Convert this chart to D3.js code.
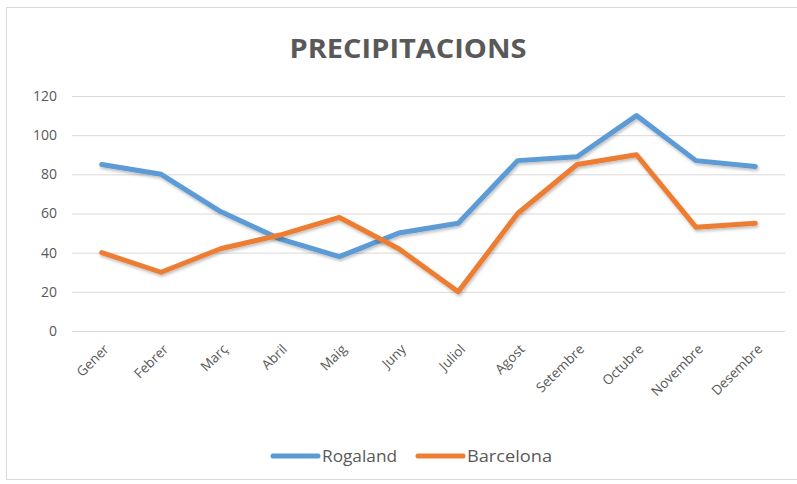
<!DOCTYPE html>
<html>
<head>
<meta charset="utf-8">
<script src="https://cdn.jsdelivr.net/npm/d3@7"></script>
<style>
  body { margin: 0; background: #fff; }
  text { font-family: "Open Sans", "DejaVu Sans", sans-serif; fill: #595959; }
</style>
</head>
<body>
<svg id="chart" width="797" height="484"></svg>
<script>
// Data
var months = ['Gener', 'Febrer', 'Març', 'Abril', 'Maig', 'Juny', 'Juliol', 'Agost', 'Setembre', 'Octubre', 'Novembre', 'Desembre'];
var rogaland = [85, 80, 61, 47, 38, 50, 55, 87, 89, 110, 87, 84];
var barcelona = [40, 30, 42, 49, 58, 42, 20, 60, 85, 90, 53, 55];
var yTicks = [0, 20, 40, 60, 80, 100, 120];
var seriesNames = ['Rogaland', 'Barcelona'];
var colors = ['#5B9BD5', '#ED7D31'];

var svg = d3.select('#chart');

// outer border
svg.append('rect')
  .attr('x', 6.5).attr('y', 7.5)
  .attr('width', 800).attr('height', 472)
  .attr('fill', '#fff')
  .attr('stroke', '#d9d9d9');

// soft shadow for the lines
var f = svg.append('defs').append('filter').attr('id', 'shadow')
  .attr('x', '-10%').attr('y', '-10%').attr('width', '120%').attr('height', '130%');
f.append('feDropShadow').attr('dx', 1).attr('dy', 2).attr('stdDeviation', 1.5)
  .attr('flood-color', '#000').attr('flood-opacity', 0.25);

// plot area edges
var plotL = 72, plotR = 785, plotT = 96, plotB = 331;

var x = d3.scaleBand().domain(months).range([plotL, plotR]);
var y = d3.scaleLinear().domain([0, 120]).range([plotB, plotT]);

// title
svg.append('text')
  .attr('x', 408).attr('y', 58)
  .attr('text-anchor', 'middle')
  .attr('textLength', 237)
  .attr('lengthAdjust', 'spacingAndGlyphs')
  .style('font-size', '26px')
  .style('font-weight', 'bold')
  .text('PRECIPITACIONS');

// gridlines + y labels
var yAxis = d3.axisLeft(y).tickValues(yTicks).tickSize(-(plotR - plotL)).tickPadding(15);
var gy = svg.append('g').attr('transform', 'translate(' + plotL + ',0)').call(yAxis);
gy.select('.domain').remove();
gy.selectAll('.tick line').attr('stroke', '#d9d9d9').attr('stroke-width', 1);
gy.selectAll('.tick text')
  .style('font-size', '14px')
  .style('font-family', '"Open Sans", sans-serif')
  .attr('fill', '#595959');

// x labels
var xAxis = d3.axisBottom(x).tickSize(0).tickPadding(0);
var gx = svg.append('g').attr('transform', 'translate(0,' + plotB + ')').call(xAxis);
gx.select('.domain').remove();
gx.selectAll('.tick text')
  .style('font-size', '13.5px')
  .style('font-family', '"Open Sans", sans-serif')
  .attr('fill', '#595959')
  .attr('text-anchor', 'end')
  .attr('dy', 0)
  .attr('transform', 'translate(8,19) rotate(-45)');

// lines
var line = d3.line()
  .x(function (d, i) { return x(months[i]) + x.bandwidth() / 2; })
  .y(function (d) { return y(d); });

[rogaland, barcelona].forEach(function (s, i) {
  svg.append('path')
    .datum(s)
    .attr('d', line)
    .attr('fill', 'none')
    .attr('stroke', colors[i])
    .attr('stroke-width', 5)
    .attr('stroke-linejoin', 'round')
    .attr('stroke-linecap', 'round')
    .attr('filter', 'url(#shadow)');
});

// legend
var legendX = [273, 418];
var legendW = [75, 85];
seriesNames.forEach(function (name, i) {
  var g = svg.append('g').attr('transform', 'translate(' + legendX[i] + ',456)');
  g.append('line')
    .attr('x1', 0).attr('x2', 45)
    .attr('stroke', colors[i]).attr('stroke-width', 5)
    .attr('stroke-linecap', 'round');
  g.append('text')
    .attr('x', 49).attr('y', 6)
    .attr('textLength', legendW[i])
    .attr('lengthAdjust', 'spacingAndGlyphs')
    .style('font-size', '16px')
    .text(name);
});
</script>
</body>
</html>
